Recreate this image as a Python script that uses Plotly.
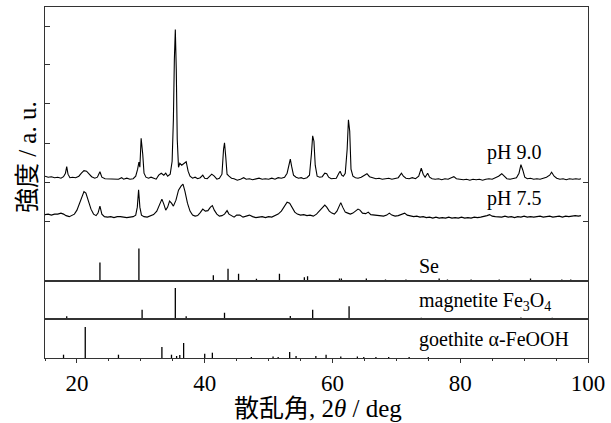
import plotly.graph_objects as go

# ---------------- data ----------------
# pH 9.0 XRD pattern: 2theta (deg) and intensity above its own baseline (a.u.)
ph90_2theta = [15.0, 15.5, 16.0, 16.5, 17.0, 17.5, 17.9, 18.2, 18.4, 18.6, 18.9, 19.3, 19.8, 20.3, 20.7, 21.1,
               21.5, 21.9, 22.3, 22.8, 23.2, 23.6, 23.9, 24.4, 25.0, 25.5, 26.0, 26.5, 27.0, 27.3, 27.8, 28.3,
               28.8, 29.2, 29.5, 29.7, 29.85, 30.05, 30.3, 30.5, 30.8, 31.2, 31.6, 32.0, 32.4, 32.8, 33.2, 33.6,
               33.9, 34.2, 34.6, 34.9, 35.1, 35.25, 35.4, 35.55, 35.7, 35.9, 36.1, 36.4, 36.6, 36.9, 37.1, 37.4,
               37.7, 38.1, 38.5, 38.9, 39.3, 39.7, 40.0, 40.4, 40.8, 41.1, 41.5, 41.9, 42.3, 42.7, 42.95, 43.1,
               43.3, 43.5, 43.8, 44.2, 44.6, 45.1, 45.6, 46.1, 46.5, 47.0, 47.5, 48.0, 48.5, 49.0, 49.5, 50.0,
               50.5, 51.0, 51.5, 52.0, 52.5, 52.9, 53.2, 53.4, 53.6, 53.9, 54.3, 54.7, 55.1, 55.5, 56.0, 56.4,
               56.7, 56.9, 57.1, 57.3, 57.6, 58.0, 58.4, 58.8, 59.1, 59.4, 59.8, 60.2, 60.6, 61.0, 61.2, 61.45,
               61.7, 62.0, 62.3, 62.5, 62.7, 62.9, 63.2, 63.6, 64.0, 64.5, 65.0, 65.4, 65.8, 66.3, 66.8, 67.3,
               67.8, 68.3, 68.8, 69.3, 69.8, 70.3, 70.8, 71.1, 71.5, 72.0, 72.5, 73.0, 73.5, 73.9, 74.2, 74.5,
               74.9, 75.2, 75.6, 76.1, 76.6, 77.1, 77.6, 78.1, 78.6, 79.0, 79.4, 80.0, 80.5, 81.0, 81.5, 82.0,
               82.5, 83.0, 83.5, 84.0, 84.5, 85.0, 85.5, 86.0, 86.5, 86.9, 87.3, 87.8, 88.3, 88.8, 89.2, 89.5,
               89.8, 90.1, 90.5, 91.0, 91.5, 92.0, 92.5, 93.0, 93.5, 94.0, 94.3, 94.7, 95.1, 95.6, 96.1, 96.6,
               97.1, 97.6, 98.1, 98.6, 98.9]
ph90_intensity = [3, 2, 2.5, 1.5, 2, 1, 2.5, 6, 12.5, 5, 1.5, 2, 1.5, 3, 6, 8.5,
                  8, 5, 2.5, 1, 2, 7.5, 2, 0.5, 0.5, 0, 0.5, 0, 1.5, 0, 1, 0,
                  0.5, 3, 10, 17, 12, 41, 25, 6, 2, 1, 2, 1, 0, 4, 6, 4,
                  6, 3, 5, 18, 60, 120, 150, 110, 40, 12, 16, 14, 15, 17, 17.5, 8,
                  3, 1, 2, 0.5, 1.5, 4, 1, 0.5, 3.5, 5, 3, 0, 1, 5, 30, 36.5,
                  22, 5, 3, 1, 0.5, -1, 0, 1.5, 0, 0.5, -0.5, 0.5, 1, 0, 0.5, 0,
                  1, 0, 1.5, 1, 2, 6, 17, 20, 13, 4, 2, 1, 1.5, 0.5, 1.5, 4,
                  25, 43.5, 38, 14, 3, 2, 2.5, 6, 5.5, 2, 0.5, 1, 1, 6, 8, 4,
                  3, 6, 30, 59.5, 48, 10, 3, 1.5, 1, 2, 3.5, 5.5, 2.5, 1.5, 0.5, 1,
                  0, 0.5, 1, 0, 0.5, 1.5, 6, 3, 1, 0.5, 1.5, 0.5, 3, 11, 5, 2,
                  6, 2, 0.5, 0, 0.5, -0.5, 0.5, 0, 1.5, 2.5, 0.5, 0, -0.5, 0, -1, 0,
                  -0.5, 0, -1, 0, 0.5, 0, 1.5, 3, 5.5, 2.5, 0.5, 0, 0.5, 1.5, 6, 14.5,
                  9, 2, 0.5, 1, 0, 0.5, 0, 1, 2, 4, 7, 3, 1, 0, 0.5, -0.5,
                  0.5, 0, 0.5, 0, 0.5]

# pH 7.5 XRD pattern
ph75_2theta = [15.0, 15.5, 16.0, 16.5, 17.0, 17.5, 17.9, 18.3, 18.8, 19.2, 19.6, 20.0, 20.4, 20.8, 21.1, 21.4,
               21.8, 22.2, 22.6, 23.0, 23.3, 23.6, 23.9, 24.3, 24.8, 25.3, 25.8, 26.3, 26.8, 27.3, 27.8, 28.3,
               28.8, 29.2, 29.45, 29.65, 29.85, 30.1, 30.5, 31.0, 31.5, 32.0, 32.5, 32.9, 33.3, 33.6, 33.9, 34.2,
               34.5, 34.8, 35.1, 35.5, 35.9, 36.3, 36.6, 36.9, 37.3, 37.7, 38.1, 38.5, 38.9, 39.3, 39.7, 40.1,
               40.5, 40.9, 41.2, 41.5, 41.9, 42.3, 42.7, 43.1, 43.5, 43.8, 44.2, 44.6, 45.0, 45.5, 46.0, 46.5,
               47.0, 47.5, 48.0, 48.5, 49.0, 49.5, 50.0, 50.5, 51.0, 51.5, 52.0, 52.5, 52.9, 53.3, 53.7, 54.1,
               54.5, 55.0, 55.5, 56.0, 56.5, 57.0, 57.5, 57.9, 58.4, 58.8, 59.1, 59.5, 59.9, 60.3, 60.7, 61.1,
               61.3, 61.6, 62.0, 62.4, 62.8, 63.2, 63.6, 64.0, 64.3, 64.7, 65.2, 65.6, 66.0, 66.5, 67.0, 67.5,
               68.0, 68.5, 68.9, 69.3, 69.8, 70.3, 70.8, 71.3, 71.7, 72.2, 72.7, 73.2, 73.7, 74.2, 74.7, 75.2,
               75.7, 76.2, 76.7, 77.2, 77.7, 78.2, 78.7, 79.2, 79.7, 80.2, 80.7, 81.2, 81.7, 82.2, 82.7, 83.2,
               83.7, 84.2, 84.6, 85.0, 85.5, 86.0, 86.5, 87.0, 87.5, 88.0, 88.5, 89.0, 89.5, 90.0, 90.5, 91.0,
               91.5, 92.0, 92.5, 93.0, 93.5, 94.0, 94.5, 95.0, 95.5, 96.0, 96.5, 97.0, 97.5, 98.0, 98.5, 98.9]
ph75_intensity = [2.5, 3, 2, 3, 3, 4, 3, 1.5, 0.5, 1.5, 3, 7, 14, 22, 25.5, 24,
                  16, 8, 3, 1.5, 4, 11, 3, 0.5, 0, 0.5, -0.5, 0.5, 0.5, 0, -0.5, 0,
                  0.5, 2, 10, 27.5, 10, 2, 0.5, 0, 1, 2.5, 6, 13, 18, 13, 7, 10,
                  16, 14, 11, 17, 27, 31, 33, 26, 14, 6, 2, 1, 1.5, 4.5, 8, 6,
                  6.5, 10, 11.5, 7, 3, 1, 1.5, 3, 6.5, 3, 1.5, 0, 2, 2, 0, 1,
                  2, 0.5, -0.5, 0, 0.5, -0.5, 0.5, 0, 1.5, 3, 6, 11, 15, 14, 10, 5,
                  3, 2, 2.5, 1.5, 2, 1, 3, 6, 9, 12, 10, 6, 4, 3, 6, 13,
                  14.5, 10, 5, 4, 3, 4, 6, 8, 7, 4, 3.5, 5, 2.5, 2, 1.5, 1,
                  1, 2, 4, 2, 1, 1.5, 2.5, 4, 2, 1, 0.5, 1, 0, 0.5, -0.5, 0,
                  -1, 0, -1, -0.5, -1, 0, -1, -0.5, -1, 0, -1, -0.5, -1, 0, -0.5, 0,
                  0.5, 1.5, 2.5, 1, 0.5, 0.5, 0, 1, 0, 0.5, -0.5, 0.5, 0, 1, 0, 0.5,
                  0, 0.5, 1, 0, 0.5, 1, 0, 0.5, 1, 0, 1, 0.5, 1, 1.5, 1, 1.5]

ph90_offset = 101.5
ph75_offset = 63.5

# Reference patterns (stick positions, relative intensities)
se_2theta = [23.6, 29.7, 41.35, 43.65, 45.3, 48.1, 51.7, 55.6, 56.1, 61.1, 61.4, 65.3, 68.3, 71.5, 76.7,
             78.0, 81.7, 86.1, 91.0, 95.9, 97.3]
se_intensity = [18, 32, 5.3, 11.7, 6.7, 1.7, 6.7, 3.3, 4.3, 2, 2, 2, 1, 1, 2, 1, 1, 1, 2, 1, 1]

mag_2theta = [18.4, 30.2, 35.4, 37.1, 43.1, 53.4, 56.9, 62.6, 73.9, 89.5, 94.4]
mag_intensity = [2.7, 9.3, 31, 2.7, 6.3, 3, 9.3, 12.7, 1.2, 1.5, 1.2]

goe_2theta = [17.9, 21.3, 26.5, 33.3, 34.8, 35.6, 36.1, 36.7, 40.0, 41.2, 47.3, 50.7, 51.5, 53.3, 54.3,
              57.4, 59.0, 61.3, 63.9, 64.9, 66.8, 68.8, 72.0, 75.0]
goe_intensity = [3.3, 31, 3.3, 11, 3.3, 2, 3, 15, 4.3, 5.3, 1, 1.5, 1, 6, 2,
                 2, 3.3, 1.5, 1.5, 1, 1, 1, 1, 1]

x_ticks = [20, 40, 60, 80, 100]
labels = {"ph90": "pH 9.0", "ph75": "pH 7.5", "se": "Se",
          "mag": "magnetite Fe<sub>3</sub>O<sub>4</sub>", "goe": "goethite α-FeOOH"}

# ---------------- figure ----------------
SERIF = "Liberation Serif, Times New Roman, Noto Sans CJK JP, serif"
LINE = "#333333"


def sticks(xs, hs):
    xx, yy = [], []
    for x, h in zip(xs, hs):
        xx += [x, x, None]
        yy += [0, h, None]
    return xx, yy


fig = go.Figure()
fig.add_trace(go.Scatter(x=ph90_2theta, y=[v + ph90_offset for v in ph90_intensity], mode="lines",
                         line=dict(color="black", width=1.1), xaxis="x", yaxis="y", showlegend=False))
fig.add_trace(go.Scatter(x=ph75_2theta, y=[v + ph75_offset for v in ph75_intensity], mode="lines",
                         line=dict(color="black", width=1.1), xaxis="x", yaxis="y", showlegend=False))
sx, sy = sticks(se_2theta, se_intensity)
fig.add_trace(go.Scatter(x=sx, y=sy, mode="lines", line=dict(color="black", width=1.3),
                         xaxis="x", yaxis="y", showlegend=False))
mx, my = sticks(mag_2theta, mag_intensity)
fig.add_trace(go.Scatter(x=mx, y=my, mode="lines", line=dict(color="black", width=1.3),
                         xaxis="x2", yaxis="y2", showlegend=False))
gx, gy = sticks(goe_2theta, goe_intensity)
fig.add_trace(go.Scatter(x=gx, y=gy, mode="lines", line=dict(color="black", width=1.3),
                         xaxis="x3", yaxis="y3", showlegend=False))

d3 = 39 / 351
d2 = 77.5 / 351

common_x = dict(range=[15, 100], showline=True, mirror=True, linecolor=LINE, linewidth=1,
                showgrid=False, zeroline=False)
common_y = dict(showline=True, mirror=True, linecolor=LINE, linewidth=1, showgrid=False,
                zeroline=False, showticklabels=False)

fig.update_layout(
    width=611, height=423,
    margin=dict(l=45, r=23, t=7, b=65),
    paper_bgcolor="white", plot_bgcolor="white",
    font=dict(family=SERIF, color="black"),
    xaxis=dict(**common_x, domain=[0, 1], anchor="y", showticklabels=False, ticks=""),
    yaxis=dict(**common_y, domain=[d2, 1], anchor="x", range=[0, 274],
               tickvals=[59, 98, 137, 177, 216, 254], ticks="inside", ticklen=5, tickcolor=LINE),
    yaxis4=dict(overlaying="y", side="right", anchor="x", range=[0, 274], showgrid=False,
                zeroline=False, showline=False, showticklabels=False,
                tickvals=[59, 98], ticks="inside", ticklen=5, tickcolor=LINE),
    xaxis2=dict(**common_x, domain=[0, 1], anchor="y2", showticklabels=False, ticks="", matches="x"),
    yaxis2=dict(**common_y, domain=[d3, d2], anchor="x2", range=[0, 38.5], ticks=""),
    xaxis3=dict(**common_x, domain=[0, 1], anchor="y3", matches="x", ticks="outside", ticklen=4,
                tickcolor=LINE, tickvals=x_ticks, ticktext=[str(t) for t in x_ticks],
                tickfont=dict(family=SERIF, size=23, color="black"),
                minor=dict(dtick=5, tick0=15, ticks="outside", ticklen=2, tickcolor=LINE)),
    yaxis3=dict(**common_y, domain=[0, d3], anchor="x3", range=[0, 39], ticks=""),
)
# invisible carrier trace so the right-hand tick axis is drawn
fig.add_trace(go.Scatter(x=[None], y=[None], xaxis="x", yaxis="y4", showlegend=False,
                         hoverinfo="skip"))

lab_font = dict(family=SERIF, size=20, color="black")
fig.add_annotation(x=83.9, y=128, xref="x", yref="y", text=labels["ph90"], showarrow=False,
                   xanchor="left", yanchor="middle", font=lab_font)
fig.add_annotation(x=83.9, y=82, xref="x", yref="y", text=labels["ph75"], showarrow=False,
                   xanchor="left", yanchor="middle", font=lab_font)
fig.add_annotation(x=73.2, y=15, xref="x", yref="y", text=labels["se"], showarrow=False,
                   xanchor="left", yanchor="middle", font=lab_font)
fig.add_annotation(x=73.2, y=18, xref="x2", yref="y2", text=labels["mag"], showarrow=False,
                   xanchor="left", yanchor="middle", font=lab_font)
fig.add_annotation(x=73.2, y=19, xref="x3", yref="y3", text=labels["goe"], showarrow=False,
                   xanchor="left", yanchor="middle", font=lab_font)

# axis titles
fig.add_annotation(x=-0.033, y=0.5726, xref="paper", yref="paper", text="強度 / a. u.",
                   textangle=-90, showarrow=False, xanchor="center", yanchor="middle",
                   font=dict(family=SERIF, size=25, color="black"))
fig.add_annotation(x=0.503, y=-0.1425, xref="paper", yref="paper", text="散乱角, 2<i>θ</i> / deg",
                   showarrow=False, xanchor="center", yanchor="middle",
                   font=dict(family=SERIF, size=25, color="black"))

fig.write_html("out.html")
